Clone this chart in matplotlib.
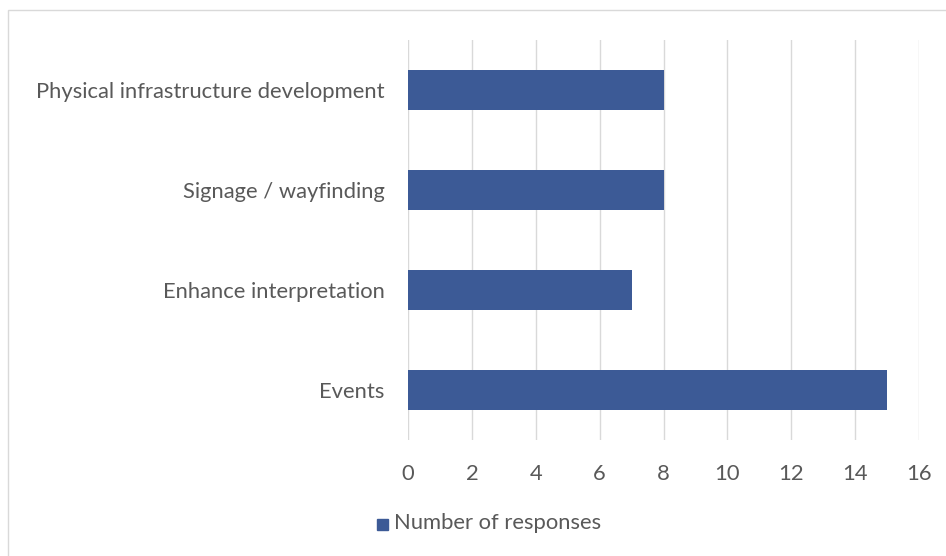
import matplotlib
matplotlib.use('Agg')
import matplotlib.pyplot as plt
from matplotlib.patches import Rectangle

categories = ['Events', 'Enhance interpretation', 'Signage / wayfinding',
              'Physical infrastructure development']
responses = [15, 7, 8, 8]
xticks = [0, 2, 4, 6, 8, 10, 12, 14, 16]
series_name = 'Number of responses'

bar_color = '#3C5A96'
text_color = '#595959'
grid_color = '#D9D9D9'

plt.rcParams['font.family'] = ['Lato', 'DejaVu Sans']
fs = 15.8

W, H = 946, 556
fig = plt.figure(figsize=(W / 100, H / 100), dpi=100)
ax = fig.add_axes([408 / W, 1 - 440 / H, (919 - 408) / W, 400 / H])

ax.barh(range(len(categories)), responses, height=0.4, color=bar_color, zorder=3)
ax.set_ylim(-0.5, len(categories) - 0.5)
ax.set_xlim(0, 16)
ax.set_xticks(xticks)
ax.set_yticks(range(len(categories)))
ax.set_yticklabels(categories)
ax.tick_params(axis='both', length=0, labelsize=fs, colors=text_color)
ax.tick_params(axis='y', pad=17)
ax.tick_params(axis='x', pad=17)
ax.grid(axis='x', color=grid_color, linewidth=1, zorder=0)
for s in ax.spines.values():
    s.set_visible(False)

# chart area border
fig.patches.append(Rectangle((8 / W, -0.05), 1.0, 1 - 10 / H + 0.05,
                             transform=fig.transFigure, fill=False,
                             edgecolor='#D9D9D9', linewidth=1))

# legend
fig.patches.append(Rectangle((377 / W, 1 - 530 / H), 11 / W, 11 / H,
                             transform=fig.transFigure, color=bar_color))
fig.text(394 / W, 1 - 523 / H, series_name, fontsize=fs, color=text_color,
         va='center', ha='left')

fig.savefig('out.png', dpi=100)
